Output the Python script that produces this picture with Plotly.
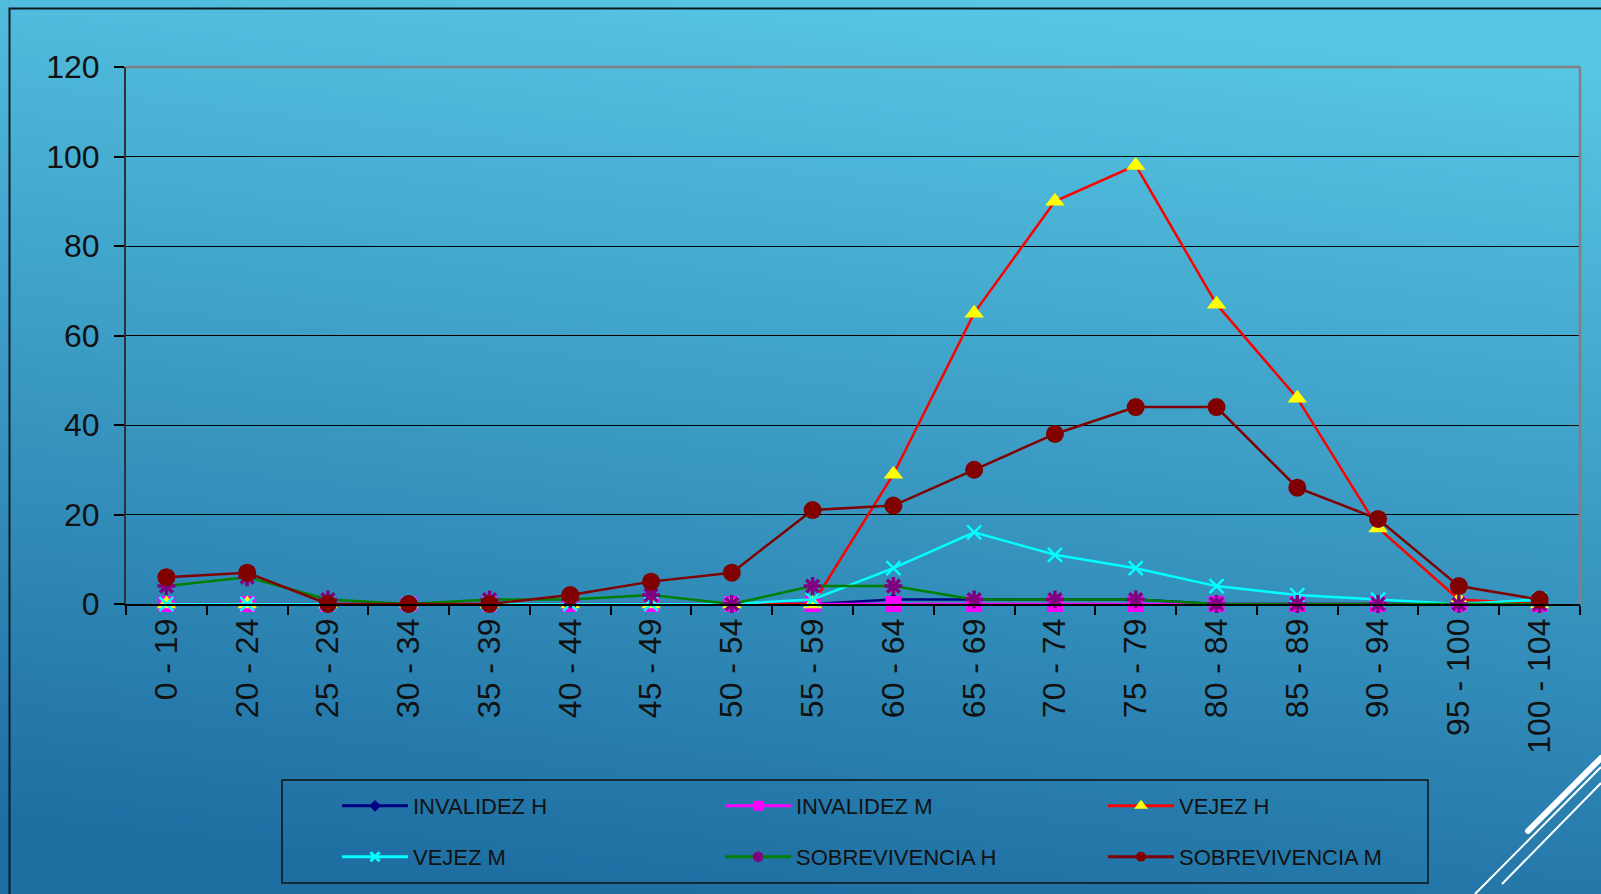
import base64
import plotly.graph_objects as go

# ---------------- data ----------------
categories = ["0 - 19", "20 - 24", "25 - 29", "30 - 34", "35 - 39", "40 - 44",
              "45 - 49", "50 - 54", "55 - 59", "60 - 64", "65 - 69", "70 - 74",
              "75 - 79", "80 - 84", "85 - 89", "90 - 94", "95 - 100", "100 - 104"]

invalidez_h = [0, 0, 0, 0, 0, 0, 0, 0, 0, 1, 1, 1, 1, 0, 0, 0, 0, 0]
invalidez_m = [0, 0, 0, 0, 0, 0, 0, 0, 0, 0, 0, 0, 0, 0, 0, 0, 0, 0]
vejez_h = [0, 0, 0, 0, 0, 0, 0, 0, 0, 29, 65, 90, 98, 67, 46, 17, 1, 0]
vejez_m = [0, 0, 0, 0, 0, 0, 0, 0, 1, 8, 16, 11, 8, 4, 2, 1, 0, 1]
sobrev_h = [4, 6, 1, 0, 1, 1, 2, 0, 4, 4, 1, 1, 1, 0, 0, 0, 0, 0]
sobrev_m = [6, 7, 0, 0, 0, 2, 5, 7, 21, 22, 30, 38, 44, 44, 26, 19, 4, 1]

y_ticks = [0, 20, 40, 60, 80, 100, 120]

# ---------------- geometry ----------------
W, H = 1601, 894
L, R, T, B = 126, 21, 67, 290
PW, PH = W - L - R, H - T - B

def px(x):
    return (x - L) / PW

def py(y):
    return (H - B - y) / PH

FONT = "Arial, 'Liberation Sans', sans-serif"

fig = go.Figure()

# name, values, line colour, plot marker, legend marker, legend group
series = [
    ("INVALIDEZ H", invalidez_h, "#000080",
     dict(symbol="diamond", size=10, color="#000080"),
     dict(symbol="diamond", size=9, color="#000080"), "legend"),
    ("INVALIDEZ M", invalidez_m, "#ff00ff",
     dict(symbol="square", size=16, color="#ff00ff"),
     dict(symbol="square", size=10, color="#ff00ff"), "legend"),
    ("VEJEZ H", vejez_h, "#ff0000",
     dict(symbol="triangle-up", size=17, color="#ffff00"),
     dict(symbol="triangle-up", size=12, color="#ffff00"), "legend"),
    ("VEJEZ M", vejez_m, "#00ffff",
     dict(symbol="x-thin-open", size=14, color="#00ffff",
          line=dict(color="#00ffff", width=2.5)),
     dict(symbol="x-thin-open", size=9, color="#00ffff",
          line=dict(color="#00ffff", width=3)), "legend2"),
    ("SOBREVIVENCIA H", sobrev_h, "#008000",
     dict(symbol="asterisk-open", size=15, color="#800080",
          line=dict(color="#800080", width=3.5)),
     dict(symbol="asterisk-open", size=9, color="#800080",
          line=dict(color="#800080", width=3)), "legend2"),
    ("SOBREVIVENCIA M", sobrev_m, "#800000",
     dict(symbol="circle", size=18, color="#800000"),
     dict(symbol="circle", size=10, color="#800000"), "legend2"),
]

for name, vals, lc, mk, lmk, lg in series:
    fig.add_trace(go.Scatter(
        x=categories, y=vals, name=name, mode="lines+markers",
        line=dict(color=lc, width=2.5), marker=mk, cliponaxis=False,
        showlegend=False, legendgroup=name,
    ))
    # legend entry (no data points), with the smaller symbols of the reference legend
    fig.add_trace(go.Scatter(
        x=[None], y=[None], name=name, mode="lines+markers",
        line=dict(color=lc, width=3), marker=lmk,
        legend=lg, legendgroup=name, hoverinfo="skip",
    ))

# background gradient + frame + decorative lines
svg = f'''<svg xmlns="http://www.w3.org/2000/svg" width="{W}" height="{H}" viewBox="0 0 {W} {H}">
<defs><linearGradient id="g" x1="0.6" y1="0" x2="0.4" y2="1">
<stop offset="0" stop-color="#57c6e4"/><stop offset="1" stop-color="#1e6ea2"/>
</linearGradient></defs>
<rect width="{W}" height="{H}" fill="url(#g)"/>
<path d="M9.5 {H} V8.5 H{W}" fill="none" stroke="#0c1a28" stroke-width="2"/>
<line x1="1475" y1="894" x2="1601" y2="767" stroke="#ffffff" stroke-width="2"/>
<line x1="1502" y1="884" x2="1601" y2="783" stroke="#ffffff" stroke-width="2"/>
<line x1="1528" y1="831" x2="1601" y2="758" stroke="#ffffff" stroke-width="6" stroke-linecap="round"/>
</svg>'''
src = "data:image/svg+xml;base64," + base64.b64encode(svg.encode()).decode()

shapes = [
    # gray plot border top and right
    dict(type="line", xref="paper", yref="paper", x0=0, x1=1, y0=1, y1=1,
         line=dict(color="#808080", width=2.5)),
    dict(type="line", xref="paper", yref="paper", x0=1, x1=1, y0=0, y1=1,
         line=dict(color="#808080", width=2.5)),
    # legend box
    dict(type="rect", xref="paper", yref="paper",
         x0=px(282), x1=px(1428), y0=py(883), y1=py(780),
         line=dict(color="#111111", width=1.5), fillcolor="rgba(0,0,0,0)"),
]

leg_common = dict(orientation="h", bgcolor="rgba(0,0,0,0)", borderwidth=0,
                  font=dict(family=FONT, size=22, color="#111111"),
                  entrywidth=302, entrywidthmode="pixels", itemwidth=66,
                  groupclick="toggleitem",
                  xanchor="left", yanchor="middle")

fig.update_layout(
    width=W, height=H,
    margin=dict(l=L, r=R, t=T, b=B, pad=0),
    paper_bgcolor="#2f8fc0",
    plot_bgcolor="rgba(0,0,0,0)",
    images=[dict(source=src, xref="paper", yref="paper", x=-L / PW, y=1 + T / PH,
                 sizex=W / PW, sizey=H / PH, sizing="stretch", layer="below",
                 xanchor="left", yanchor="top")],
    shapes=shapes,
    showlegend=True,
    legend=dict(x=px(337), y=py(806), **leg_common),
    legend2=dict(x=px(337), y=py(857), **leg_common),
    xaxis=dict(
        type="category", categoryorder="array", categoryarray=categories,
        range=[-0.5, len(categories) - 0.5],
        showgrid=False, zeroline=False,
        showline=True, linecolor="#000000", linewidth=1.5,
        ticks="outside", tickson="boundaries", ticklen=9, tickwidth=1.5,
        tickcolor="#000000", tickangle=-90,
        tickfont=dict(family=FONT, size=32, color="#111111"),
    ),
    yaxis=dict(
        range=[0, 120], tickvals=y_ticks, ticktext=[str(v) for v in y_ticks],
        showgrid=True, gridcolor="#000000", gridwidth=1.2, zeroline=False,
        showline=True, linecolor="#303030", linewidth=2,
        ticks="outside", ticklen=10, tickwidth=1.5, tickcolor="#000000",
        tickfont=dict(family=FONT, size=32, color="#111111"),
        ticklabelstandoff=8,
    ),
)

fig.write_html("out.html", config={"displayModeBar": False},
               post_script="document.body.style.margin='0';document.body.style.overflow='hidden';")
